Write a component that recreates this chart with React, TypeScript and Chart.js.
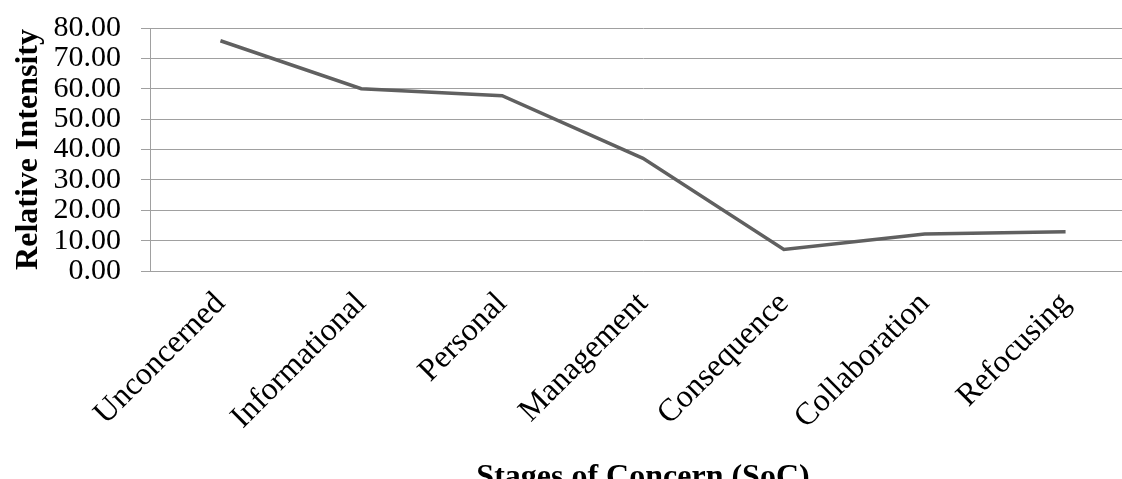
import React, { useEffect, useRef } from "react";
import { Chart, registerables } from "chart.js";

Chart.register(...registerables);

const categories = [
  "Unconcerned",
  "Informational",
  "Personal",
  "Management",
  "Consequence",
  "Collaboration",
  "Refocusing",
];
const intensity = [75.8, 60.0, 57.7, 37.1, 7.1, 12.2, 12.9];
const yTicks = [0, 10, 20, 30, 40, 50, 60, 70, 80];

const FONT = "'Liberation Serif', 'Times New Roman', serif";

export default function App() {
  const ref = useRef<HTMLCanvasElement | null>(null);

  useEffect(() => {
    document.body.style.margin = "0";
    document.body.style.overflow = "hidden";
    document.documentElement.style.overflow = "hidden";
    const canvas = ref.current;
    if (!canvas) return;
    const chart = new Chart(canvas, {
      type: "line",
      data: {
        labels: categories,
        datasets: [
          {
            data: intensity,
            borderColor: "#606060",
            borderWidth: 3.5,
            pointRadius: 0,
            tension: 0,
            fill: false,
          },
        ],
      },
      options: {
        animation: false,
        responsive: true,
        maintainAspectRatio: false,
        layout: { padding: { top: 28, left: 0, right: 0, bottom: 0 } },
        plugins: {
          legend: { display: false },
          tooltip: { enabled: false },
        },
        scales: {
          x: {
            type: "category",
            offset: true,
            grid: { display: false },
            border: { display: true, color: "#a0a0a0", width: 1 },
            ticks: {
              minRotation: 45,
              maxRotation: 45,
              autoSkip: false,
              color: "#000",
              padding: 6,
              font: { family: FONT, size: 32 },
            },
            title: {
              display: true,
              text: "Stages of Concern (SoC)",
              color: "#000",
              font: { family: FONT, size: 32, weight: "bold" },
              padding: { top: 0, bottom: -18 },
            },
            afterFit: (scale: any) => {
              scale.height = 208;
              scale.paddingLeft = 0;
              scale.paddingRight = 0;
            },
          },
          y: {
            min: 0,
            max: 80,
            afterBuildTicks: (scale: any) => {
              scale.ticks = yTicks.map((v) => ({ value: v }));
            },
            grid: {
              color: "#a0a0a0",
              lineWidth: 1,
              drawTicks: true,
              tickLength: 9,
            },
            border: { display: true, color: "#a0a0a0", width: 1 },
            ticks: {
              autoSkip: false,
              color: "#000",
              padding: 20,
              font: { family: FONT, size: 30 },
              callback: (v: any) => Number(v).toFixed(2),
            },
            title: {
              display: true,
              text: "Relative Intensity",
              color: "#000",
              font: { family: FONT, size: 32, weight: "bold" },
              padding: { top: 10, bottom: 0 },
            },
            afterFit: (scale: any) => {
              scale.width = 150;
              scale.paddingTop = 0;
              scale.paddingBottom = 0;
            },
          },
        },
      },
    });
    return () => chart.destroy();
  }, []);

  return (
    <div style={{ position: "relative", width: 1136, height: 479 }}>
      <canvas ref={ref} />
    </div>
  );
}
